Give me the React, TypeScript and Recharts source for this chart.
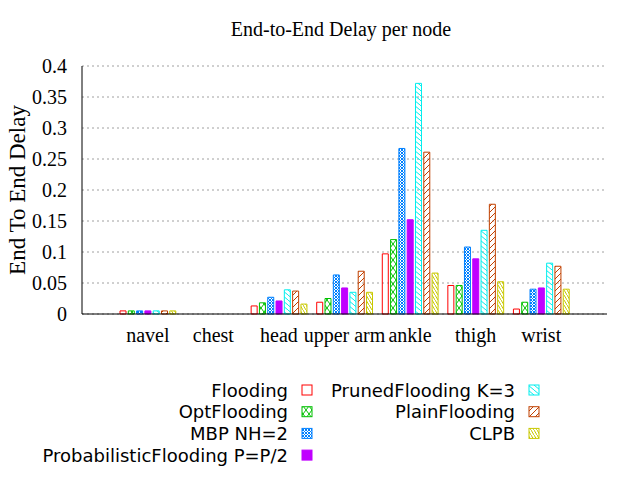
import React from 'react';
import { BarChart, Bar, XAxis, YAxis, CartesianGrid } from 'recharts';

const nodes = ['navel', 'chest', 'head', 'upper arm', 'ankle', 'thigh', 'wrist'];
const flooding = [0.005, 0, 0.013, 0.019, 0.097, 0.046, 0.008];
const optFlooding = [0.005, 0, 0.018, 0.025, 0.12, 0.046, 0.019];
const mbpNh2 = [0.005, 0, 0.027, 0.063, 0.267, 0.108, 0.04];
const probFlooding = [0.005, 0, 0.021, 0.042, 0.152, 0.089, 0.042];
const prunedFlooding = [0.005, 0, 0.039, 0.035, 0.372, 0.135, 0.082];
const plainFlooding = [0.005, 0, 0.037, 0.069, 0.261, 0.177, 0.077];
const clpb = [0.005, 0, 0.016, 0.035, 0.066, 0.052, 0.04];
const yTicks = [0, 0.05, 0.1, 0.15, 0.2, 0.25, 0.3, 0.35, 0.4];

const SERIF = '"Liberation Serif", "Times New Roman", serif';
const SANS = '"DejaVu Sans", sans-serif';

const series = [
  { key: 'flooding', name: 'Flooding', values: flooding, color: '#ff0000', fill: 'none' },
  { key: 'opt', name: 'OptFlooding', values: optFlooding, color: '#00c000', fill: 'url(#patOpt)' },
  { key: 'mbp', name: 'MBP NH=2', values: mbpNh2, color: '#0080ff', fill: 'url(#patMbp)' },
  { key: 'prob', name: 'ProbabilisticFlooding P=P/2', values: probFlooding, color: '#c000ff', fill: '#c000ff' },
  { key: 'pruned', name: 'PrunedFlooding K=3', values: prunedFlooding, color: '#00eeee', fill: 'url(#patPruned)' },
  { key: 'plain', name: 'PlainFlooding', values: plainFlooding, color: '#c04000', fill: 'url(#patPlain)' },
  { key: 'clpb', name: 'CLPB', values: clpb, color: '#c8c800', fill: 'url(#patClpb)' },
];

const data = nodes.map((node, i) => {
  const row: Record<string, string | number> = { node };
  series.forEach((s) => {
    row[s.key] = s.values[i];
  });
  return row;
});

const Legend7: React.FC = () => {
  const rows = [series.slice(0, 4), series.slice(4)];
  const cols = [{ textEnd: 288, box: 302 }, { textEnd: 515, box: 529 }];
  return (
    <svg width={640} height={110} style={{ position: 'absolute', left: 0, top: 370 }}>
      {rows.map((col, c) =>
        col.map((s, r) => {
          const cy = 20 + r * 21.7;
          return (
            <g key={s.key}>
              <text
                x={cols[c].textEnd}
                y={cy}
                textAnchor="end"
                dominantBaseline="central"
                fontFamily={SANS}
                fontSize={18}
                fill="#000"
              >
                {s.name}
              </text>
              <rect x={cols[c].box} y={cy - 5} width={10} height={10} fill={s.fill} stroke={s.color} strokeWidth={1} />
            </g>
          );
        })
      )}
    </svg>
  );
};

export default function App() {
  return (
    <div style={{ position: 'absolute', left: 0, top: 0, width: 640, height: 480, background: '#fff' }}>
      <div
        style={{
          position: 'absolute',
          left: 0,
          top: 18,
          width: 682,
          textAlign: 'center',
          fontFamily: SERIF,
          fontSize: 20,
        }}
      >
        End-to-End Delay per node
      </div>
      <BarChart
        width={640}
        height={480}
        data={data}
        margin={{ top: 66, right: 33, bottom: 126, left: 0 }}
        barSize={6}
        barGap={2.3}
      >
        <defs>
          <pattern id="patOpt" patternUnits="userSpaceOnUse" width={6} height={8}>
            <path d="M0,0 L6,8 M6,0 L0,8" stroke="#00c000" strokeWidth={1} />
          </pattern>
          <pattern id="patMbp" patternUnits="userSpaceOnUse" width={3} height={3}>
            <path d="M0,0 L3,3 M3,0 L0,3" stroke="#0080ff" strokeWidth={1} />
          </pattern>
          <pattern id="patPruned" patternUnits="userSpaceOnUse" width={6} height={5}>
            <path d="M0,0 L6,5" stroke="#00eeee" strokeWidth={1} />
          </pattern>
          <pattern id="patPlain" patternUnits="userSpaceOnUse" width={6} height={6}>
            <path d="M0,6 L6,0" stroke="#c04000" strokeWidth={1} />
          </pattern>
          <pattern id="patClpb" patternUnits="userSpaceOnUse" width={3} height={5}>
            <path d="M0,0 L3,5" stroke="#c8c800" strokeWidth={1} />
          </pattern>
        </defs>
        <CartesianGrid vertical={false} stroke="#a0a0a0" strokeDasharray="2 3" />
        <XAxis
          dataKey="node"
          height={40}
          padding={{ left: 33, right: 33 }}
          tickLine={false}
          tickSize={0}
          tickMargin={14}
          axisLine={{ stroke: '#000' }}
          tick={{ fill: '#000', fontFamily: SERIF, fontSize: 20 }}
          interval={0}
        />
        <XAxis xAxisId="top" dataKey="node" orientation="top" height={0} tick={false} tickLine={false} axisLine={{ stroke: '#000' }} />
        <YAxis
          width={82}
          domain={[0, 0.4]}
          ticks={yTicks}
          tickLine={false}
          tickSize={0}
          tickMargin={15}
          axisLine={{ stroke: '#000' }}
          tick={{ fill: '#000', fontFamily: SERIF, fontSize: 20 }}
          label={{
            value: 'End To End Delay',
            angle: -90,
            position: 'center',
            dx: -24,
            style: { textAnchor: 'middle', fontFamily: SERIF, fontSize: 23, fill: '#000' },
          }}
        />
        <YAxis
          yAxisId="right"
          orientation="right"
          width={0}
          domain={[0, 0.4]}
          ticks={yTicks}
          mirror
          tickSize={5}
          tickLine={{ stroke: '#000' }}
          axisLine={{ stroke: '#000' }}
          tick={() => <g />}
        />
        {series.map((s) => (
          <Bar
            key={s.key}
            dataKey={s.key}
            name={s.name}
            fill={s.fill}
            stroke={s.color}
            strokeWidth={1}
            isAnimationActive={false}
          />
        ))}
      </BarChart>
      <Legend7 />
    </div>
  );
}
